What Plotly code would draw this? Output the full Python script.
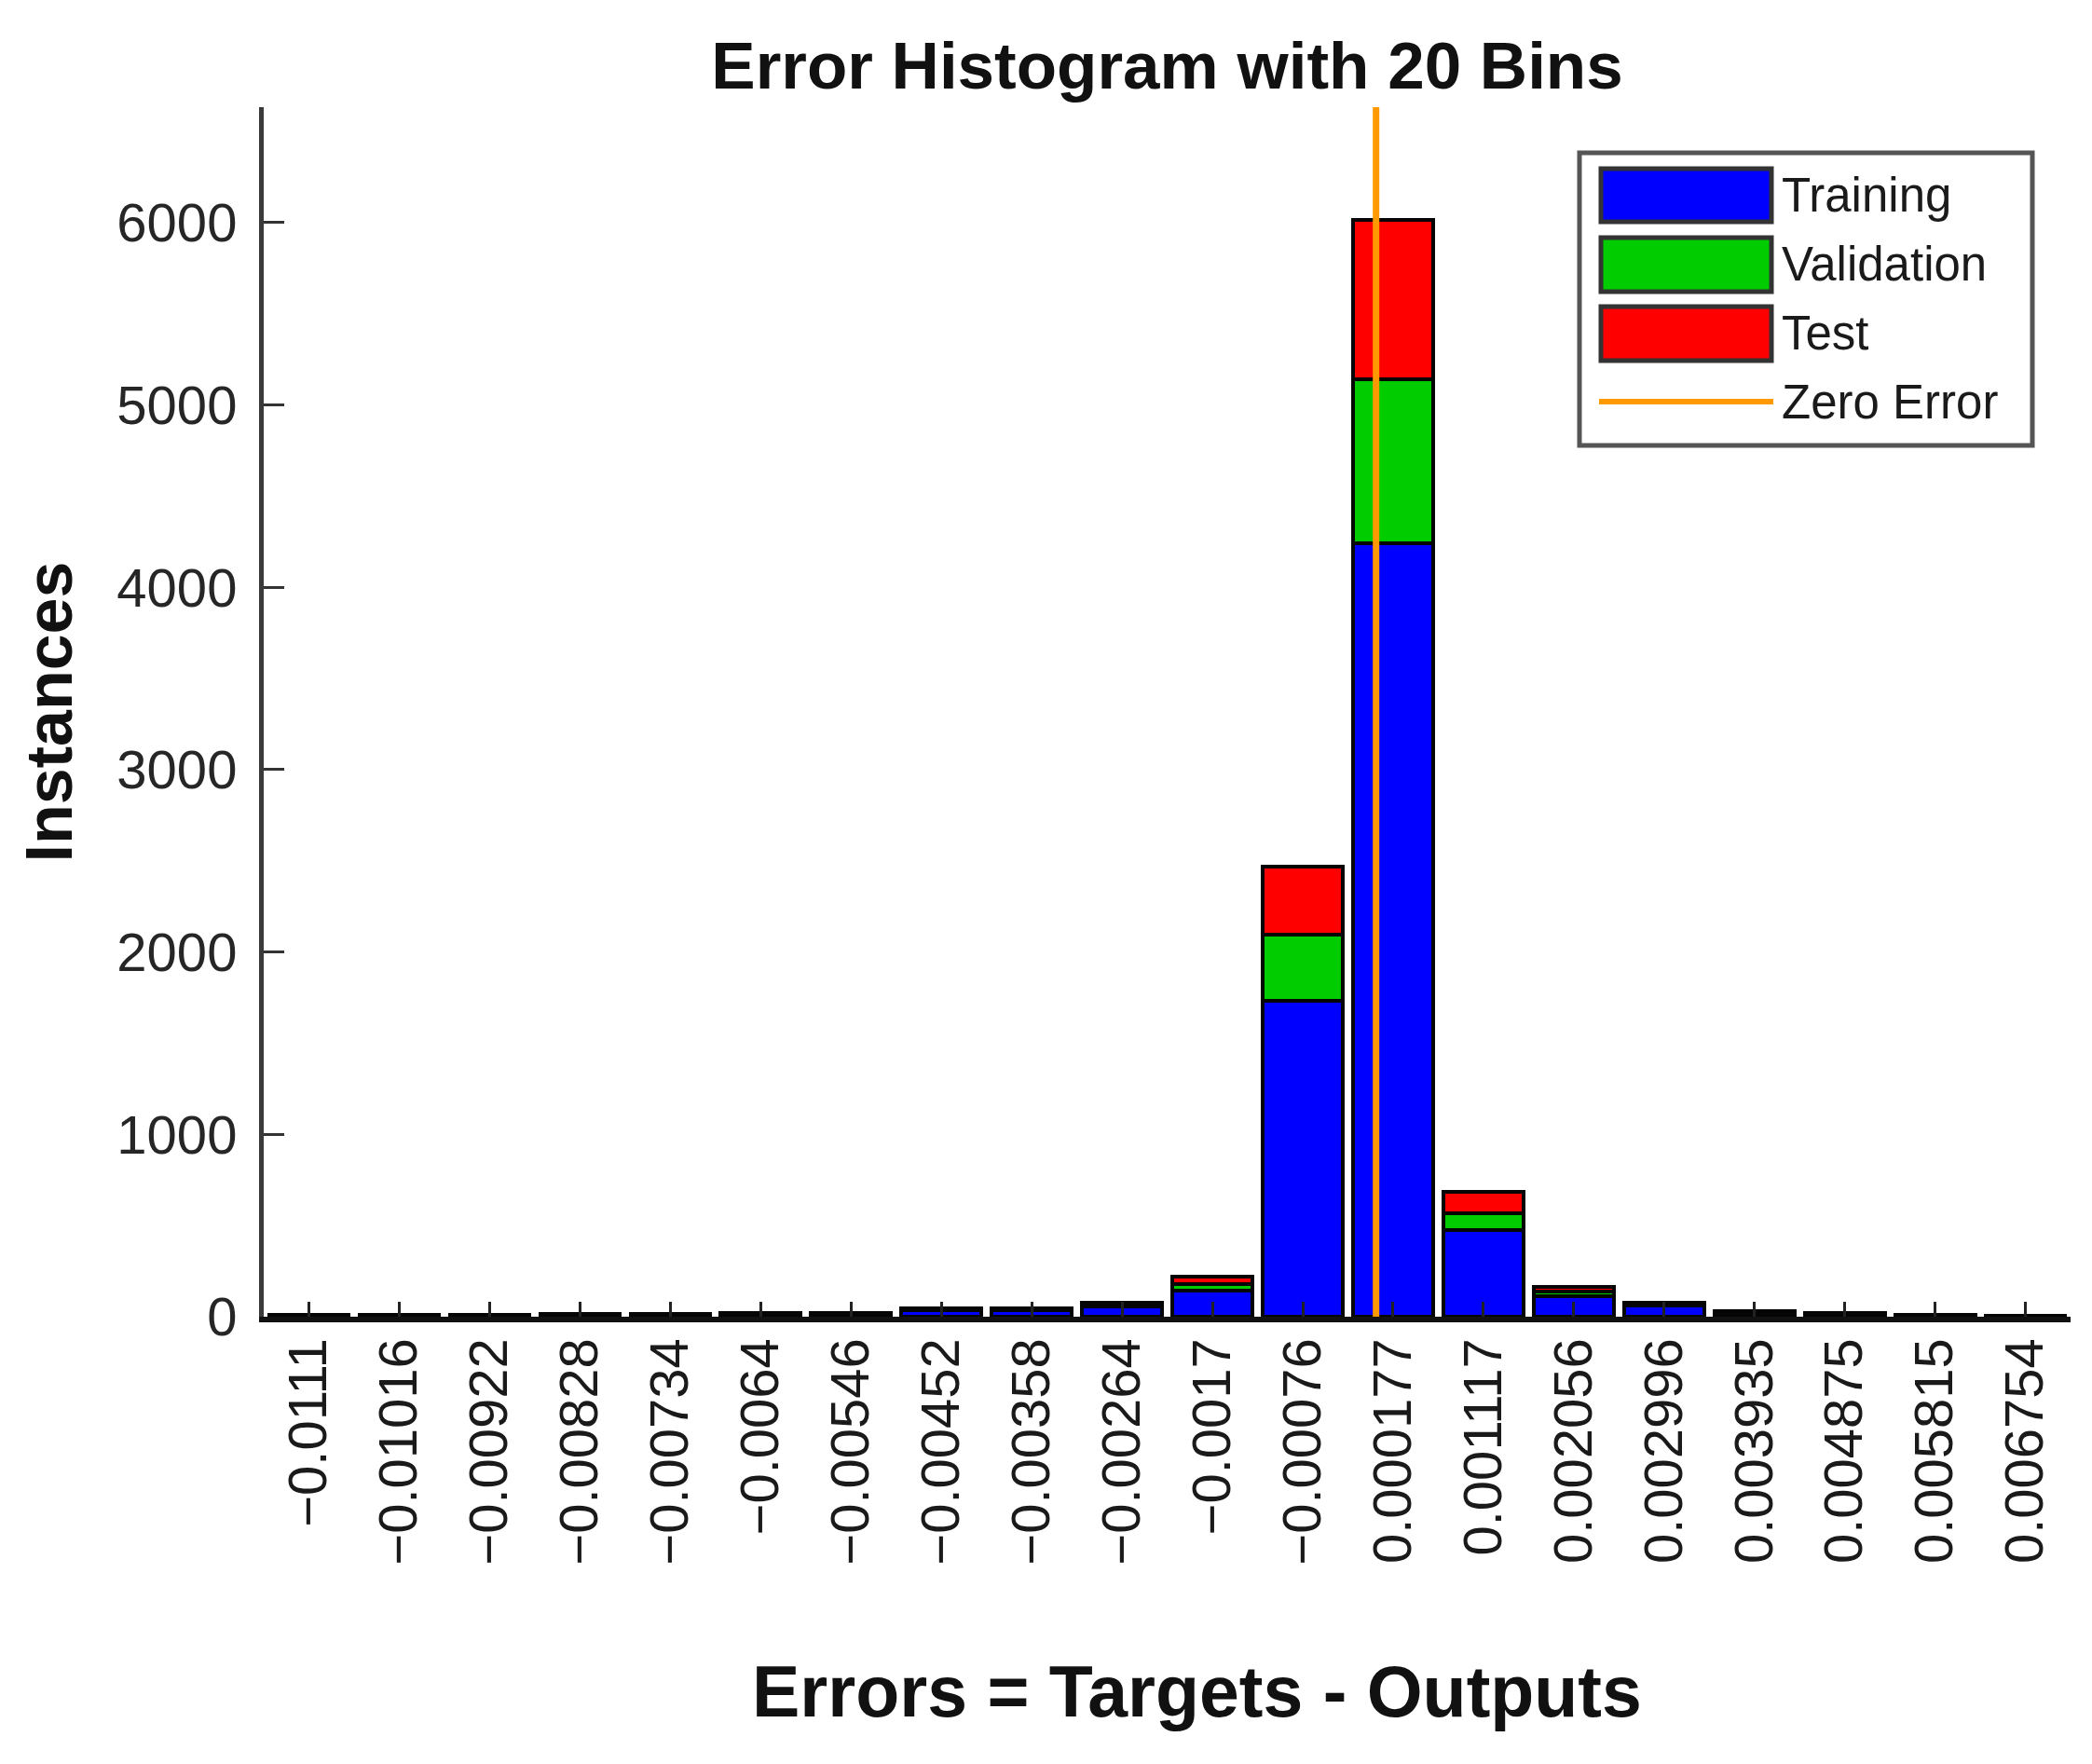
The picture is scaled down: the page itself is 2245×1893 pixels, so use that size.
import plotly.graph_objects as go

# ---------------- data ----------------
tick_labels = ["−0.0111", "−0.01016", "−0.00922", "−0.00828", "−0.00734", "−0.0064",
               "−0.00546", "−0.00452", "−0.00358", "−0.00264", "−0.0017", "−0.00076",
               "0.000177", "0.001117", "0.002056", "0.002996", "0.003935", "0.004875",
               "0.005815", "0.006754"]
bin_centers = [-0.0111, -0.01016, -0.00922, -0.00828, -0.00734, -0.0064,
               -0.00546, -0.00452, -0.00358, -0.00264, -0.0017, -0.00076,
               0.000177, 0.001117, 0.002056, 0.002996, 0.003935, 0.004875,
               0.005815, 0.006754]
training = [8, 8, 8, 9, 10, 12, 15, 36, 36, 55, 145, 1730, 4243, 477, 110, 60, 22, 16, 7, 5]
validation = [2, 2, 2, 2, 2, 3, 3, 7, 7, 12, 35, 365, 900, 90, 30, 9, 4, 3, 1, 1]
test = [2, 2, 2, 2, 2, 3, 3, 5, 5, 8, 40, 375, 872, 118, 24, 6, 4, 3, 1, 1]
zero_error = 0.0
y_max = 6633
y_ticks = [0, 1000, 2000, 3000, 4000, 5000, 6000]

series = [("Training", training, "#0000FF"),
          ("Validation", validation, "#00CC00"),
          ("Test", test, "#FF0000")]

# ---------------- layout geometry (pixels) ----------------
W, H = 2245, 1893
L, R, T, B = 283, 2222, 115, 1413
FONT = "Liberation Sans, Arial, Helvetica, sans-serif"

bin_w = (bin_centers[-1] - bin_centers[0]) / (len(bin_centers) - 1)

fig = go.Figure()
for name, vals, col in series:
    fig.add_trace(go.Bar(
        x=bin_centers, y=vals, name=name, width=bin_w * 0.885,
        marker=dict(color=col, line=dict(color="#050505", width=4)),
        showlegend=False))

fig.add_trace(go.Scatter(
    x=[zero_error, zero_error], y=[0, y_max], mode="lines", name="Zero Error",
    line=dict(color="#FF9900", width=7), showlegend=False))


def px(x):
    return (x - L) / (R - L)


def py(y):
    return (B - y) / (B - T)


shapes = []
annotations = []
# legend box
shapes.append(dict(type="rect", xref="paper", yref="paper",
                   x0=px(1695), x1=px(2181), y0=py(478), y1=py(164),
                   line=dict(color="#555555", width=5), fillcolor="white", layer="above"))
legend_rows = [("Training", "#0000FF", 181, 238),
               ("Validation", "#00CC00", 255, 313),
               ("Test", "#FF0000", 329, 387)]
for name, col, y0, y1 in legend_rows:
    shapes.append(dict(type="rect", xref="paper", yref="paper",
                       x0=px(1718), x1=px(1901), y0=py(y1), y1=py(y0),
                       line=dict(color="#333333", width=5), fillcolor=col, layer="above"))
    annotations.append(dict(xref="paper", yref="paper", x=px(1910), y=py((y0 + y1) / 2),
                            xanchor="left", yanchor="middle", showarrow=False, text=name,
                            font=dict(family=FONT, size=51, color="#1a1a1a")))
shapes.append(dict(type="line", xref="paper", yref="paper",
                   x0=px(1716), x1=px(1903), y0=py(431), y1=py(431),
                   line=dict(color="#FF9900", width=6), layer="above"))
annotations.append(dict(xref="paper", yref="paper", x=px(1910), y=py(432),
                        xanchor="left", yanchor="middle", showarrow=False, text="Zero Error",
                        font=dict(family=FONT, size=51, color="#1a1a1a")))
# x-axis title (placed slightly right of centre, as in the original)
annotations.append(dict(xref="paper", yref="paper", x=px(1284), y=py(1815),
                        xanchor="center", yanchor="middle", showarrow=False,
                        text="<b>Errors = Targets - Outputs</b>",
                        font=dict(family=FONT, size=77, color="#111111")))

fig.update_layout(
    width=W, height=H,
    margin=dict(l=L, r=W - R, t=T, b=H - B, pad=0),
    paper_bgcolor="white", plot_bgcolor="white",
    barmode="stack", bargap=0,
    title=dict(text="<b>Error Histogram with 20 Bins</b>", x=0.5, xref="paper",
               xanchor="center", y=1 - 70 / H, yref="container", yanchor="middle",
               font=dict(family=FONT, size=71, color="#111111")),
    shapes=shapes, annotations=annotations,
    showlegend=False,
)

fig.update_xaxes(
    type="linear",
    range=[bin_centers[0] - bin_w / 2, bin_centers[-1] + bin_w / 2],
    tickmode="array", tickvals=bin_centers, ticktext=tick_labels,
    tickangle=-90, ticks="inside", ticklen=16, tickwidth=3, tickcolor="#222222",
    ticklabelstandoff=-6,
    showline=True, linecolor="#111111", linewidth=6, mirror=False,
    showgrid=False, zeroline=False,
    tickfont=dict(family=FONT, size=58, color="#1a1a1a"),
    automargin=False,
)
fig.update_yaxes(
    range=[0, y_max], tickmode="array", tickvals=y_ticks,
    ticks="inside", ticklen=22, tickwidth=3, tickcolor="#333333",
    ticklabelstandoff=12,
    showline=True, linecolor="#3a3a3a", linewidth=5, mirror=False,
    showgrid=False, zeroline=False,
    tickfont=dict(family=FONT, size=58, color="#262626"),
    title=dict(text="<b>Instances</b>", standoff=26,
               font=dict(family=FONT, size=70, color="#111111")),
    automargin=False,
)

fig.write_html("out.html", config={"displayModeBar": False},
               post_script="document.body.style.margin='0';")
